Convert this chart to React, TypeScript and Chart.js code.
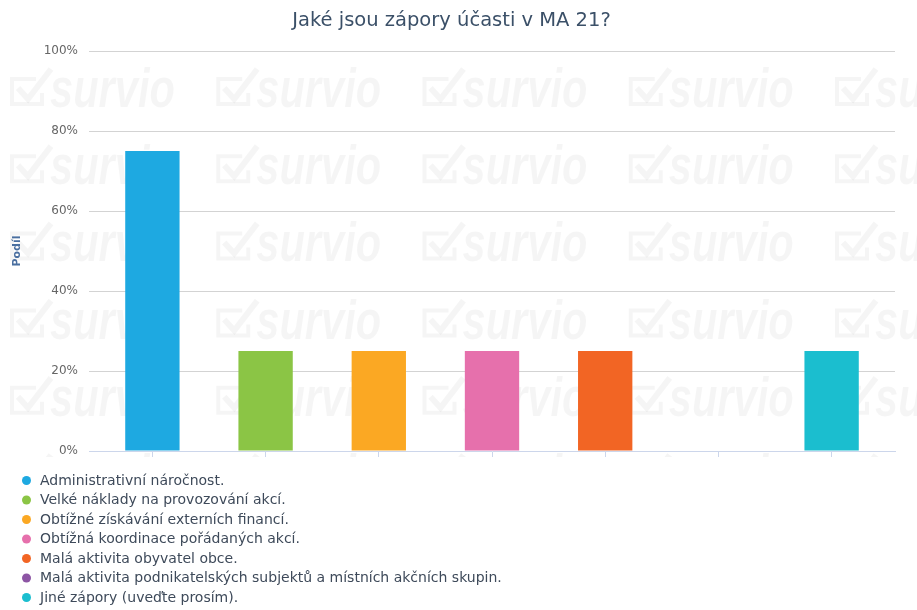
import React, { useEffect, useRef } from "react";
import { Chart, registerables } from "chart.js";

Chart.register(...registerables);

const TITLE = "Jaké jsou zápory účasti v MA 21?";
const Y_TITLE = "Podíl";
const categories = [
  "Administrativní náročnost.",
  "Velké náklady na provozování akcí.",
  "Obtížné získávání externích financí.",
  "Obtížná koordinace pořádaných akcí.",
  "Malá aktivita obyvatel obce.",
  "Malá aktivita podnikatelských subjektů a místních akčních skupin.",
  "Jiné zápory (uveďte prosím).",
];
const shares = [75, 25, 25, 25, 25, 0, 25];
const colors = ["#1ea9e1", "#8bc545", "#fba823", "#e670ac", "#f26524", "#8d55a4", "#1bbecf"];
const yTicks = [0, 20, 40, 60, 80, 100];

const FONT = "'DejaVu Sans', sans-serif";

const watermarkPlugin = {
  id: "watermark",
  beforeDraw(chart: any) {
    const ctx = chart.ctx;
    ctx.save();
    ctx.beginPath();
    ctx.rect(0, 44, chart.width, 413);
    ctx.clip();
    ctx.fillStyle = "rgba(0,0,0,0.04)";
    ctx.strokeStyle = "rgba(0,0,0,0.04)";
    ctx.lineJoin = "miter";
    for (let r = 0; r < 6; r++) {
      const cy = 91 + r * 77.2;
      for (let k = 0; k < 5; k++) {
        const x0 = 10 + k * 206.25;
        ctx.lineWidth = 4;
        ctx.beginPath();
        ctx.moveTo(x0 + 26, cy - 12);
        ctx.lineTo(x0 + 2, cy - 12);
        ctx.lineTo(x0 + 2, cy + 13);
        ctx.lineTo(x0 + 32, cy + 13);
        ctx.lineTo(x0 + 32, cy + 2);
        ctx.stroke();
        ctx.lineWidth = 6;
        ctx.beginPath();
        ctx.moveTo(x0 + 8, cy - 3);
        ctx.lineTo(x0 + 18, cy + 8);
        ctx.lineTo(x0 + 41, cy - 22);
        ctx.stroke();
        ctx.save();
        ctx.font = "bold italic 56px 'Liberation Sans', sans-serif";
        const w = ctx.measureText("survio").width;
        ctx.translate(x0 + 40, cy + 16);
        ctx.scale(125 / w, 1);
        ctx.textBaseline = "alphabetic";
        ctx.textAlign = "left";
        ctx.fillText("survio", 0, 0);
        ctx.restore();
      }
    }
    ctx.restore();
  },
};

const legendPlugin = {
  id: "customLegend",
  afterDraw(chart: any) {
    const ctx = chart.ctx;
    const top = chart.chartArea.bottom + 29.5;
    ctx.save();
    ctx.font = "14px " + FONT;
    ctx.textBaseline = "middle";
    ctx.textAlign = "left";
    const labels: string[] = chart.data.labels;
    const bg: string[] = chart.data.datasets[0].backgroundColor;
    labels.forEach((lab, i) => {
      const cy = top + i * 19.5;
      ctx.fillStyle = bg[i];
      ctx.beginPath();
      ctx.arc(26.5, cy, 4.5, 0, Math.PI * 2);
      ctx.fill();
      ctx.fillStyle = "#3e4a5a";
      ctx.fillText(lab, 40, cy + 0.5);
    });
    ctx.restore();
  },
};

export default function App() {
  const ref = useRef<HTMLCanvasElement>(null);
  useEffect(() => {
    if (!ref.current) return;
    const chart = new Chart(ref.current, {
      type: "bar",
      data: {
        labels: categories,
        datasets: [
          {
            label: Y_TITLE,
            data: shares.map((v, i) => ({ x: i, y: v })) as any,
            backgroundColor: colors,
            borderWidth: 0,
            barPercentage: 0.48,
            categoryPercentage: 1,
          },
        ],
      },
      options: {
        animation: false,
        responsive: true,
        maintainAspectRatio: false,
        layout: { padding: { left: 0, right: 14, top: 0, bottom: 0 } },
        plugins: {
          legend: { display: false },
          tooltip: { enabled: false },
          title: {
            display: true,
            text: TITLE,
            color: "#3b5068",
            font: { family: FONT, size: 19.5, weight: "normal" },
            padding: { top: 9, bottom: 18.6 },
          },
        },
        scales: {
          x: {
            type: "linear",
            offset: false,
            min: -0.56,
            max: 6.56,
            afterFit: (s: any) => {
              s.height = 159;
            },
            ticks: { stepSize: 1, includeBounds: false, display: false },
            grid: {
              offset: false,
              drawOnChartArea: false,
              drawTicks: true,
              tickLength: 6,
              color: "#ccd6eb",
            },
            border: { display: true, color: "#ccd6eb", width: 1 },
          },
          y: {
            min: 0,
            max: 100,
            afterFit: (s: any) => {
              s.width = 89;
            },
            afterBuildTicks: (s: any) => {
              s.ticks = yTicks.map((v) => ({ value: v }));
            },
            ticks: {
              padding: 11,
              color: "#666666",
              font: { family: FONT, size: 12 },
              callback: (v: any) => v + "%",
            },
            grid: {
              drawTicks: false,
              color: (c: any) => (c.tick && c.tick.value === 0 ? "rgba(0,0,0,0)" : "#d3d3d3"),
            },
            border: { display: false },
            title: {
              display: true,
              text: Y_TITLE,
              color: "#4a6fa0",
              font: { family: FONT, size: 11, weight: "bold" },
              padding: { top: 11, bottom: 0 },
            },
          },
          spacer: {
            type: "linear",
            position: "right",
            display: true,
            afterFit: (s: any) => {
              s.width = 8;
            },
            ticks: { display: false },
            grid: { display: false, drawTicks: false },
            border: { display: false },
          },
        },
      },
      plugins: [watermarkPlugin, legendPlugin],
    });
    return () => chart.destroy();
  }, []);
  return (
    <div style={{ position: "fixed", left: 0, top: 0, width: 917, height: 610, background: "#ffffff" }}>
      <canvas ref={ref} />
    </div>
  );
}
